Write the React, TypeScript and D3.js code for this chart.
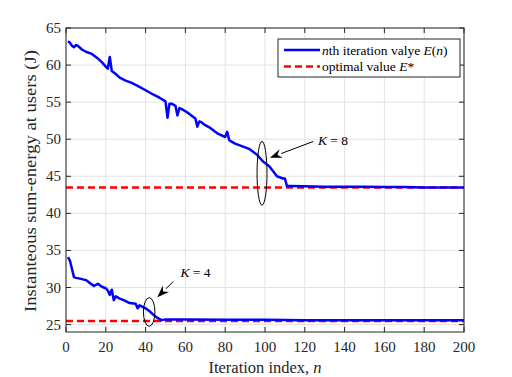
import * as d3 from "d3";

// K = 8 curve
const iterK8 = [1, 2, 3, 4, 5, 6, 8, 10, 13, 16, 18, 20, 21, 22, 23, 25, 27, 30, 33, 36, 40, 44, 47, 50, 51, 52, 53, 55, 56, 57, 58, 61, 63, 65, 66, 67, 68, 70, 72, 76, 80, 81, 82, 83, 85, 88, 92, 96, 99, 102, 104, 106, 109, 110, 111, 113, 120, 130, 140, 150, 160, 170, 180, 190, 200];
const energyK8 = [63.2, 63.0, 62.6, 62.4, 62.7, 62.6, 62.1, 61.8, 61.5, 60.9, 60.4, 59.8, 59.5, 61.1, 59.2, 58.8, 58.3, 57.9, 57.6, 57.2, 56.6, 56.0, 55.6, 55.1, 52.9, 54.8, 54.8, 54.5, 53.2, 54.2, 54.1, 53.6, 53.2, 52.8, 51.7, 52.4, 52.3, 51.9, 51.6, 50.8, 50.3, 51.0, 49.9, 49.7, 49.4, 49.1, 48.7, 47.9, 47.0, 46.4, 45.7, 45.0, 44.7, 44.7, 43.7, 43.7, 43.65, 43.6, 43.6, 43.6, 43.55, 43.55, 43.5, 43.5, 43.5];

// K = 4 curve
const iterK4 = [1, 2, 3, 4, 5, 7, 10, 12, 14, 16, 18, 20, 21, 22, 23, 24, 25, 27, 29, 32, 35, 36, 37, 40, 42, 44, 46, 48, 50, 60, 80, 100, 120, 140, 160, 180, 200];
const energyK4 = [34.1, 33.6, 32.5, 31.4, 31.3, 31.2, 31.0, 30.6, 30.2, 30.5, 30.1, 29.9, 29.6, 29.0, 29.7, 28.3, 28.8, 28.5, 28.3, 27.9, 27.8, 27.2, 27.6, 27.2, 26.8, 26.3, 25.9, 25.6, 25.7, 25.7, 25.65, 25.65, 25.6, 25.6, 25.6, 25.6, 25.6];

const optimalValues = [43.5, 25.5];
const xTicks = [0, 20, 40, 60, 80, 100, 120, 140, 160, 180, 200];
const yTicks = [25, 30, 35, 40, 45, 50, 55, 60, 65];

// annotation: ellipse centre/radii, arrow tip/tail, label position (data units)
const notes = [
  { label: "8", cx: 98.5, cy: 45.4, rx: 2.5, ry: 4.3, tipN: 102.5, tipE: 47.5, tailN: 124.3, tailE: 49.7, textN: 126.6, textE: 49.2 },
  { label: "4", cx: 41.8, cy: 26.7, rx: 2.9, ry: 1.93, tipN: 45.9, tipE: 28.7, tailN: 53.9, tailE: 30.8, textN: 57.5, textE: 31.4 },
];

const W = 512;
const H = 377;
const m = { left: 66, right: 48, top: 28, bottom: 45 };
const font = "'Liberation Serif', 'Times New Roman', serif";

export default function App() {
  const x = d3.scaleLinear().domain([0, 200]).range([m.left, W - m.right]);
  const y = d3.scaleLinear().domain([24, 65]).range([H - m.bottom, m.top]);
  const x0 = x.range()[0], x1 = x.range()[1];
  const y0 = y.range()[0], y1 = y.range()[1];

  const line = d3
    .line<[number, number]>()
    .x((d) => x(d[0]))
    .y((d) => y(d[1]));

  const k8 = iterK8.map((n, i) => [n, energyK8[i]] as [number, number]);
  const k4 = iterK4.map((n, i) => [n, energyK4[i]] as [number, number]);

  const axisColor = "#262626";
  const tick = 5;

  return (
    <svg width={W} height={H} style={{ position: "absolute", left: 0, top: 0, background: "#fff" }} fontFamily={font}>
      {/* grid */}
      {xTicks.map((t) => (
        <line key={"gx" + t} x1={x(t)} x2={x(t)} y1={y0} y2={y1} stroke="#e3e3e3" strokeWidth={1} />
      ))}
      {yTicks.map((t) => (
        <line key={"gy" + t} x1={x0} x2={x1} y1={y(t)} y2={y(t)} stroke="#e3e3e3" strokeWidth={1} />
      ))}

      {/* optimal values */}
      {optimalValues.map((v) => (
        <line key={"opt" + v} x1={x0} x2={x1} y1={y(v)} y2={y(v)} stroke="#ff0000" strokeWidth={2.5} strokeDasharray="7,4" />
      ))}

      {/* curves */}
      <path d={line(k8) ?? ""} fill="none" stroke="#0000ff" strokeWidth={2.5} strokeLinejoin="round" />
      <path d={line(k4) ?? ""} fill="none" stroke="#0000ff" strokeWidth={2.5} strokeLinejoin="round" />

      {/* box + ticks */}
      <rect x={x0} y={y1} width={x1 - x0} height={y0 - y1} fill="none" stroke={axisColor} strokeWidth={1} />
      {xTicks.map((t) => (
        <g key={"xt" + t}>
          <line x1={x(t)} x2={x(t)} y1={y0} y2={y0 - tick} stroke={axisColor} />
          <line x1={x(t)} x2={x(t)} y1={y1} y2={y1 + tick} stroke={axisColor} />
          <text x={x(t)} y={y0 + 20} textAnchor="middle" fontSize={15} fill={axisColor}>
            {t}
          </text>
        </g>
      ))}
      {yTicks.map((t) => (
        <g key={"yt" + t}>
          <line x1={x0} x2={x0 + tick} y1={y(t)} y2={y(t)} stroke={axisColor} />
          <line x1={x1} x2={x1 - tick} y1={y(t)} y2={y(t)} stroke={axisColor} />
          <text x={x0 - 5} y={y(t) + 5} textAnchor="end" fontSize={15} fill={axisColor}>
            {t}
          </text>
        </g>
      ))}

      {/* axis labels */}
      <text x={(x0 + x1) / 2} y={373} textAnchor="middle" fontSize={16.5} fill={axisColor}>
        Iteration index, <tspan fontStyle="italic">n</tspan>
      </text>
      <text
        transform={`translate(36,181) rotate(-90)`}
        textAnchor="middle"
        fontSize={17}
        textLength={262}
        lengthAdjust="spacingAndGlyphs"
        fill={axisColor}
      >
        Instanteous sum-energy at users (J)
      </text>

      {/* annotations */}
      {notes.map((a) => {
        const tx = x(a.tipN), ty = y(a.tipE);
        const sx = x(a.tailN), sy = y(a.tailE);
        const ang = Math.atan2(ty - sy, tx - sx);
        const len = 12, half = 4.5;
        const bx = tx - len * Math.cos(ang), by = ty - len * Math.sin(ang);
        const px = -Math.sin(ang) * half, py = Math.cos(ang) * half;
        const nx = tx - 8 * Math.cos(ang), ny = ty - 8 * Math.sin(ang);
        return (
          <g key={"k" + a.label}>
            <ellipse cx={x(a.cx)} cy={y(a.cy)} rx={x(a.cx + a.rx) - x(a.cx)} ry={y(a.cy) - y(a.cy + a.ry)} fill="none" stroke="#000" strokeWidth={1} />
            <line x1={sx} y1={sy} x2={bx} y2={by} stroke="#000" strokeWidth={1} />
            <polygon points={`${tx},${ty} ${bx + px},${by + py} ${nx},${ny} ${bx - px},${by - py}`} fill="#000" />
            <text x={x(a.textN)} y={y(a.textE)} fontSize={13.5} fill="#000">
              <tspan fontStyle="italic">K</tspan> = {a.label}
            </text>
          </g>
        );
      })}

      {/* legend */}
      <g>
        <rect x={278} y={39} width={182} height={38} fill="#fff" stroke={axisColor} strokeWidth={1} />
        <line x1={284} x2={320} y1={50} y2={50} stroke="#0000ff" strokeWidth={2.5} />
        <line x1={284} x2={320} y1={66.5} y2={66.5} stroke="#ff0000" strokeWidth={2.5} strokeDasharray="7,4" />
        <text x={322} y={54.5} fontSize={13.5} fill="#000">
          <tspan fontStyle="italic">n</tspan>th iteration valye <tspan fontStyle="italic">E</tspan>(<tspan fontStyle="italic">n</tspan>)
        </text>
        <text x={322} y={71} fontSize={13.5} fill="#000">
          optimal value <tspan fontStyle="italic">E</tspan>*
        </text>
      </g>
    </svg>
  );
}
